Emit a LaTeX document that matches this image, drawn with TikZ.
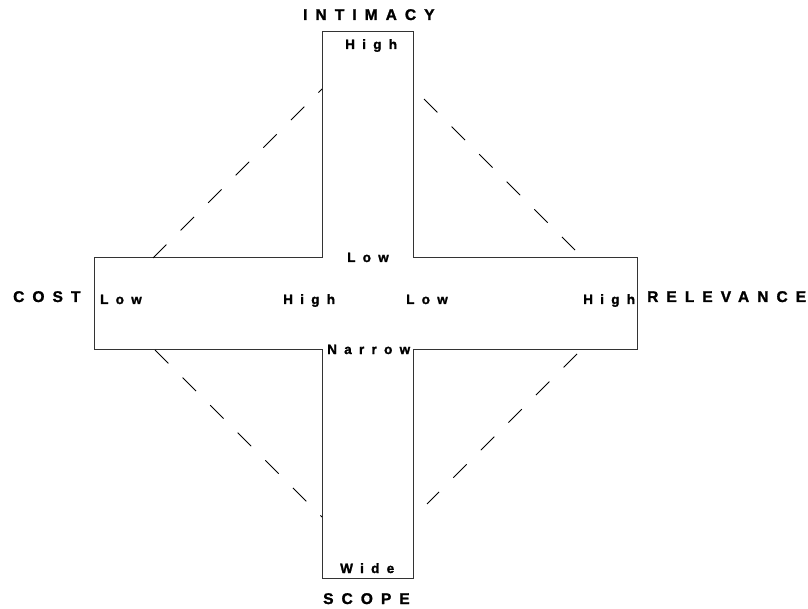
\documentclass[tikz,border=0pt]{standalone}
\usepackage{fontspec}
\setmainfont{Liberation Sans}
\newfontfamily\axisfont{Liberation Sans}[LetterSpace=52, BoldFeatures={FakeBold=1.6}]
\newfontfamily\endfont{Liberation Sans}[LetterSpace=54, BoldFeatures={FakeBold=1.6}]

\begin{document}
\begin{tikzpicture}[x=1pt, y=-1pt,
    axislabel/.style={anchor=base west, inner sep=0pt, font=\axisfont\bfseries\fontsize{15.5}{17}\selectfont},
    endlabel/.style={anchor=base west, inner sep=0pt, font=\endfont\bfseries\fontsize{13.5}{15}\selectfont},
    crossline/.style={line width=1pt, draw=black!80},
    diagline/.style={line width=0.8pt, dash pattern=on 19pt off 20pt}]
    \useasboundingbox (0, 0) rectangle (808, 609);

    % The cross: vertical arm and horizontal arm as one outline
    \draw[crossline] (322, 32) -- (413, 32) -- (413, 258) -- (637, 258) -- (637, 349)
        -- (413, 349) -- (413, 578) -- (322, 578) -- (322, 349) -- (94, 349)
        -- (94, 258) -- (322, 258) -- cycle;

    % Dashed corners between the arms
    \coordinate (tlA) at (153, 258);
    \coordinate (tlB) at (322, 89);
    \coordinate (trA) at (424, 99);
    \coordinate (trB) at (575, 250);
    \coordinate (blA) at (155, 350);
    \coordinate (blB) at (322, 517);
    \coordinate (brA) at (577, 354);
    \coordinate (brB) at (427, 504);
    \draw[diagline] (tlA) -- (tlB);
    \draw[diagline] (trA) -- (trB);
    \draw[diagline] (blA) -- (blB);
    \draw[diagline] (brA) -- (brB);

    % Axis names
    \node[axislabel] (intimacy) at (303, 20) {INTIMACY};
    \node[axislabel] (scope) at (323, 604) {SCOPE};
    \node[axislabel] (cost) at (13, 302) {COST};
    \node[axislabel] (relevance) at (647, 302) {RELEVANCE};

    % Ends of each arm
    \node[endlabel] (intHigh) at (345, 49) {High};
    \node[endlabel] (intLow) at (347, 262) {Low};
    \node[endlabel] (scoNarrow) at (327, 354) {Narrow};
    \node[endlabel] (scoWide) at (340, 573) {Wide};
    \node[endlabel] (costLow) at (100, 304) {Low};
    \node[endlabel] (costHigh) at (283, 304) {High};
    \node[endlabel] (relLow) at (406, 304) {Low};
    \node[endlabel] (relHigh) at (583, 304) {High};
\end{tikzpicture}
\end{document}
